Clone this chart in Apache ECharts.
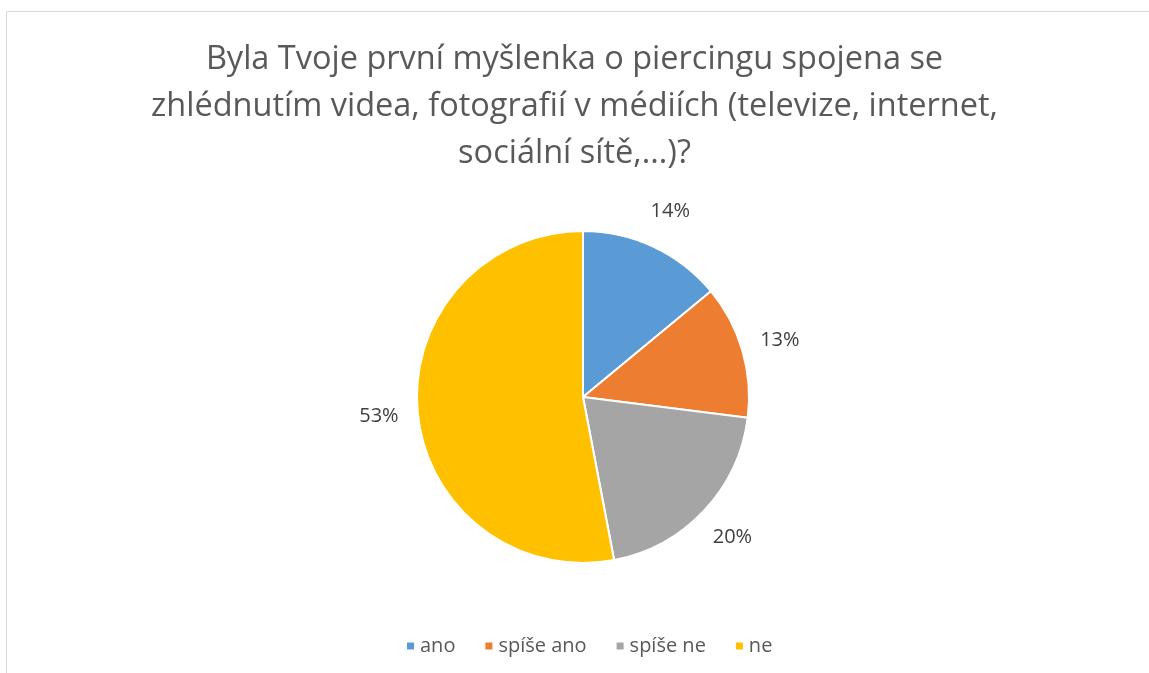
<!DOCTYPE html>
<html>
<head>
<meta charset="utf-8">
<script src="https://cdn.jsdelivr.net/npm/echarts@6/dist/echarts.min.js"></script>
<style>
html, body { margin: 0; padding: 0; background: #fff; }
#pieChart { width: 1149px; height: 673px; }
</style>
</head>
<body>
<div id="pieChart"></div>
<script>
var categories = ['ano', 'spíše ano', 'spíše ne', 'ne'];
var values = [14, 13, 20, 53];
var colors = ['#5B9BD5', '#ED7D31', '#A5A5A5', '#FFC000'];
var titleText = 'Byla Tvoje první myšlenka o piercingu spojena se\nzhlédnutím videa, fotografií v médiích (televize, internet,\nsociální sítě,...)?';

/**
 * kolacovy graf
 */
function drawpie() {
    var pieChart = echarts.init(document.getElementById('pieChart'));
    var pieData = [];
    for (var i = 0; i < categories.length; i++) {
        pieData.push({ name: categories[i], value: values[i] });
    }
    var option = {
        animation: false,
        color: colors,
        graphic: [{
            type: 'rect',
            shape: { x: 6.5, y: 11.5, width: 1200, height: 700 },
            style: { fill: 'none', stroke: '#d9d9d9', lineWidth: 1 }
        }],
        title: {
            text: titleText,
            left: 'center',
            top: 31,
            padding: [5, 0, 5, 10],
            textStyle: {
                fontFamily: 'Open Sans',
                fontSize: 32.5,
                fontWeight: 'normal',
                color: '#595959',
                lineHeight: 47
            }
        },
        legend: {
            data: categories,
            bottom: 12,
            left: 400,
            icon: 'rect',
            itemWidth: 9,
            itemHeight: 9,
            itemGap: 28,
            textStyle: {
                fontFamily: 'Open Sans',
                fontSize: 20,
                color: '#595959'
            }
        },
        series: [{
            name: 'piercing',
            type: 'pie',
            center: [583, 397],
            radius: 166,
            startAngle: 90,
            clockwise: true,
            data: pieData,
            itemStyle: {
                borderColor: '#fff',
                borderWidth: 2
            },
            label: {
                show: true,
                position: 'outside',
                formatter: '{d}%',
                fontFamily: 'Open Sans',
                fontSize: 20,
                color: '#404040',
                distanceToLabelLine: 0
            },
            labelLine: {
                show: false,
                length: 39,
                length2: 0
            },
            labelLayout: function () {
                return { align: 'center', verticalAlign: 'middle' };
            }
        }]
    };
    pieChart.setOption(option);
}

drawpie();
</script>
</body>
</html>
